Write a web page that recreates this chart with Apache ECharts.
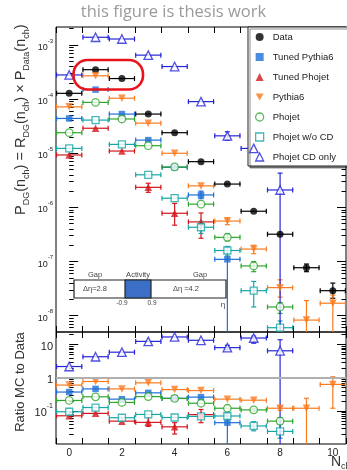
<!DOCTYPE html>
<html><head><meta charset="utf-8">
<script src="https://cdn.jsdelivr.net/npm/echarts@6/dist/echarts.min.js"></script>
<style>html,body{margin:0;padding:0;background:#fff;}#c{width:347px;height:470px;}</style>
</head><body><div id="c"></div>
<script>
// ---------- data ----------
const nch = [0, 1, 2, 3, 4, 5, 6, 7, 8, 9, 10];
const seriesNames = ['Data', 'Tuned Pythia6', 'Tuned Phojet', 'Pythia6', 'Phojet', 'Phojet w/o CD', 'Phojet CD only'];

// upper pane: P_DG(n_ch)
const pData   = [1.28e-4, 3.5e-4, 2.4e-4, 5.3e-5, 2.4e-5, 7.0e-6, 2.7e-6, 8.5e-7, 3.2e-7, 7.7e-8, 2.9e-8];
const pTunedPythia6 = [4.4e-5, 1.5e-4, 5.3e-5, 1.75e-5, 5.5e-6, 1.7e-6, 1.1e-7];
const pTunedPhojet  = [9.3e-6, 2.9e-5, 1.1e-5, 2.35e-6, 7.8e-7, 5.4e-7];
const pPythia6 = [7.2e-5, 2.7e-4, 1.04e-4, 3.6e-5, 1.0e-5, 2.5e-6, 5.6e-7, 1.7e-7, 3.3e-8, 8.3e-9, 1.7e-8];
const pPhojet  = [2.4e-5, 8.7e-5, 4.3e-5, 1.38e-5, 5.6e-6, 1.15e-6, 2.8e-7, 8.3e-8, 1.45e-8];
const pPhojetNoCD = [1.23e-5, 4.1e-5, 1.46e-5, 4.0e-6, 1.48e-6, 4.3e-7, 1.6e-7, 2.9e-8, 6.0e-9];
const pPhojetCD   = [2.8e-4, 1.39e-3, 1.29e-3, 6.5e-4, 4.0e-4, 9.0e-5, 2.1e-5, 1.23e-5, 2.1e-6];

// upper pane vertical error bands [low, high] (null = smaller than marker)
const ePData = [null, null, null, null, null, null, null, null, null, [6.5e-8, 9.0e-8], [2.1e-8, 4.0e-8]];
const ePTunedPythia6 = [null, null, null, null, null, [1.45e-6, 2.0e-6], [1e-12, 1.6e-7]];
const ePTunedPhojet  = [null, null, null, [1.9e-6, 2.8e-6], [4.7e-7, 1.19e-6], [2.7e-7, 7.9e-7]];
const ePPythia6 = [null, null, null, null, null, null, [4.8e-7, 6.4e-7], [1.4e-7, 2.0e-7], [2.2e-8, 4.6e-8], [1e-12, 1.9e-8], [1e-12, 2.4e-8]];
const ePPhojet  = [null, null, null, null, null, null, [2.4e-7, 3.3e-7], [6.5e-8, 1.0e-7], [1.1e-8, 1.75e-8]];
const ePPhojetNoCD = [null, null, null, null, null, [3.3e-7, 5.5e-7], [1.27e-7, 1.9e-7], [1.45e-8, 4.3e-8], [4e-9, 8e-9]];
const ePPhojetCD   = [null, null, null, null, null, null, [1.75e-5, 2.5e-5], [8.7e-6, 1.5e-5], [1e-12, 4.3e-6]];

// lower pane: ratio MC / Data
const rTunedPythia6 = [0.37, 0.46, 0.226, 0.35, 0.24, 0.26, 0.044];
const rTunedPhojet  = [0.071, 0.084, 0.049, 0.045, 0.033, 0.077];
const rPythia6 = [0.60, 0.77, 0.46, 0.70, 0.44, 0.41, 0.226, 0.21, 0.12, 0.12, 0.63];
const rPhojet  = [0.206, 0.266, 0.18, 0.27, 0.237, 0.17, 0.12, 0.107, 0.049];
const rPhojetNoCD = [0.094, 0.126, 0.062, 0.078, 0.063, 0.068, 0.07, 0.035, 0.024];
const rPhojetCD   = [2.18, 4.3, 5.9, 12.5, 17, 13.5, 8.1, 15.8, 6.5];

const eRTunedPythia6 = [null, null, null, null, null, null, [1e-6, 0.084]];
const eRTunedPhojet  = [null, null, null, [0.034, 0.063], [0.02, 0.044], [0.044, 0.11]];
const eRPythia6 = [null, null, null, null, null, null, null, null, [0.105, 0.135], [1e-6, 0.24], [0.12, 1.07]];
const eRPhojet  = [null, null, null, null, null, null, null, [0.095, 0.12], [0.039, 0.063]];
const eRPhojetNoCD = [null, null, null, null, null, null, [0.055, 0.09], [0.025, 0.047], [0.015, 0.039]];
const eRPhojetCD   = [null, null, null, null, null, null, [7.0, 9.5], [11, 18], [1e-6, 14]];

// axis ticks / labels
const xLabelValues = [0, 2, 4, 6, 8, 10];
const xTickValues = [-0.5, 0.5, 1.5, 2.5, 3.5, 4.5, 5.5, 6.5, 7.5, 8.5, 9.5, 10.5];
const yTopLabelValues = [1e-8, 1e-7, 1e-6, 1e-5, 1e-4, 1e-3];
const yTopDecades = [1e-9, 1e-8, 1e-7, 1e-6, 1e-5, 1e-4, 1e-3];
const yBotLabelValues = [0.1, 1, 10];
const yBotDecades = [0.01, 0.1, 1, 10];
const yTopRange = [5.0e-9, 2.15e-3];
const yBotRange = [0.01, 24];

// ---------- styles ----------
const FONT = 'Liberation Sans';
const styles = [
  { color: '#000000', symbol: 'circle', size: 7, open: false },
  { color: '#1f6fd6', symbol: 'rect', size: 6.5, open: false },
  { color: '#d3161b', symbol: 'triangle', size: 7.5, open: false },
  { color: '#fb7b1f', symbol: 'path://M0,0L10,0L5,8.66Z', size: 7.5, open: false },
  { color: '#2ea62e', symbol: 'circle', size: 7.5, open: true },
  { color: '#17a5a6', symbol: 'rect', size: 7, open: true },
  { color: '#2626d9', symbol: 'triangle', size: 8.5, open: true }
];
const upperVals = [pData, pTunedPythia6, pTunedPhojet, pPythia6, pPhojet, pPhojetNoCD, pPhojetCD];
const upperErrs = [ePData, ePTunedPythia6, ePTunedPhojet, ePPythia6, ePPhojet, ePPhojetNoCD, ePPhojetCD];
const lowerVals = [null, rTunedPythia6, rTunedPhojet, rPythia6, rPhojet, rPhojetNoCD, rPhojetCD];
const lowerErrs = [null, eRTunedPythia6, eRTunedPhojet, eRPythia6, eRPhojet, eRPhojetNoCD, eRPhojetCD];

function minorTicks(decades, range) {
  const out = [];
  decades.forEach(d => { for (let k = 2; k <= 9; k++) { const v = k * d; if (v > range[0] && v < range[1]) out.push(v); } });
  return out;
}

function buildPoints(ys, errs) {
  const out = [];
  for (let i = 0; i < nch.length; i++) {
    if (ys[i] == null) continue;
    const e = errs ? errs[i] : null;
    out.push([nch[i], ys[i], e ? e[0] : ys[i], e ? e[1] : ys[i]]);
  }
  return out;
}

function errRenderer(color) {
  return function (params, api) {
    const cs = params.coordSys;
    const x = api.value(0), y = api.value(1), lo = api.value(2), hi = api.value(3);
    const c = api.coord([x, y]);
    const l = api.coord([x - 0.5, y]);
    const r = api.coord([x + 0.5, y]);
    const top = cs.y, bot = cs.y + cs.height;
    const st = { stroke: color, lineWidth: 1.2 };
    const ch = [];
    ch.push({ type: 'line', shape: { x1: l[0], y1: c[1], x2: r[0], y2: c[1] }, style: st });
    ch.push({ type: 'line', shape: { x1: l[0] + 0.6, y1: c[1] - 2.5, x2: l[0] + 0.6, y2: c[1] + 2.5 }, style: st });
    ch.push({ type: 'line', shape: { x1: r[0] - 0.6, y1: c[1] - 2.5, x2: r[0] - 0.6, y2: c[1] + 2.5 }, style: st });
    if (hi > y * 1.0001 || lo < y * 0.9999) {
      const yh = api.coord([x, hi])[1];
      const yl = api.coord([x, lo])[1];
      const y1 = Math.max(top, Math.min(bot, yh));
      const y2 = Math.max(top, Math.min(bot, yl));
      ch.push({ type: 'line', shape: { x1: c[0], y1: y1, x2: c[0], y2: y2 }, style: st });
      if (yh >= top) ch.push({ type: 'line', shape: { x1: c[0] - 2.5, y1: yh, x2: c[0] + 2.5, y2: yh }, style: st });
      if (yl <= bot) ch.push({ type: 'line', shape: { x1: c[0] - 2.5, y1: yl, x2: c[0] + 2.5, y2: yl }, style: st });
    }
    return { type: 'group', children: ch };
  };
}

function itemStyleOf(s) {
  return s.open ? { color: '#fff', borderColor: s.color, borderWidth: 1.3 } : { color: s.color, borderWidth: 0 };
}

const series = [];
function addSeries(name, vals, errs, s, xi, yi) {
  const pts = buildPoints(vals, errs);
  series.push({
    type: 'scatter', name: name, xAxisIndex: xi, yAxisIndex: yi, z: 4,
    symbol: s.symbol, symbolSize: s.size, itemStyle: itemStyleOf(s),
    data: pts.map(p => [p[0], p[1]]), silent: true
  });
  series.push({
    type: 'custom', name: name, xAxisIndex: xi, yAxisIndex: yi, z: 3, silent: true,
    encode: { x: 0, y: 1 }, data: pts, renderItem: errRenderer(s.color)
  });
}
seriesNames.forEach((n, i) => addSeries(n, upperVals[i], upperErrs[i], styles[i], 0, 0));
seriesNames.forEach((n, i) => { if (lowerVals[i]) addSeries(n, lowerVals[i], lowerErrs[i], styles[i], 2, 4); });
// reference line at ratio 1
series.push({
  type: 'scatter', xAxisIndex: 2, yAxisIndex: 4, data: [], z: 2, silent: true,
  markLine: { silent: true, symbol: 'none', label: { show: false }, animation: false,
    lineStyle: { color: '#b0b0b0', width: 2, type: 'solid' }, data: [{ yAxis: 1 }] }
});

// ---------- axes ----------
function expLabel(v) {
  const e = Math.round(Math.log10(v));
  if (e === 0) return '{b|1}';
  if (e === 1) return '{b|10}';
  return '{b|10}{e|' + e + '}';
}
function xAxisDef(grid, pos, withLabels) {
  return {
    type: 'value', gridIndex: grid, position: pos, min: -0.5, max: 10.5,
    axisLine: { show: false }, splitLine: { show: false },
    axisTick: { show: true, inside: true, length: 6, customValues: xTickValues, lineStyle: { color: '#000', width: 1 } },
    axisLabel: withLabels ? { show: true, customValues: xLabelValues, fontSize: 10, color: '#222', margin: 4, fontFamily: FONT } : { show: false }
  };
}
function yAxisDef(grid, pos, range, ticks, len, labels, fs) {
  return {
    type: 'log', logBase: 10, gridIndex: grid, position: pos, min: range[0], max: range[1],
    axisLine: { show: false }, splitLine: { show: false }, minorTick: { show: false },
    axisTick: { show: true, inside: true, length: len, customValues: ticks, lineStyle: { color: '#000', width: 1 } },
    axisLabel: labels ? {
      show: true, customValues: labels, margin: 3, formatter: expLabel, fontFamily: FONT, color: '#222',
      rich: {
        b: { fontSize: fs, fontFamily: FONT, color: '#222', lineHeight: fs + 5, verticalAlign: 'bottom' },
        e: { fontSize: Math.round(fs * 0.68), fontFamily: FONT, color: '#222', lineHeight: 8, verticalAlign: 'top' }
      }
    } : { show: false }
  };
}
const topMinor = minorTicks(yTopDecades, yTopRange);
const botMinor = minorTicks(yBotDecades, yBotRange);

const option = {
  animation: false,
  backgroundColor: '#fff',
  textStyle: { fontFamily: FONT },
  grid: [
    { left: 56, top: 27, width: 290, height: 305, show: true, borderColor: '#000', borderWidth: 1, backgroundColor: 'transparent' },
    { left: 56, top: 332, width: 290, height: 112, show: true, borderColor: '#000', borderWidth: 1, backgroundColor: 'transparent' }
  ],
  xAxis: [xAxisDef(0, 'bottom', false), xAxisDef(0, 'top', false), xAxisDef(1, 'bottom', true), xAxisDef(1, 'top', false)],
  yAxis: [
    yAxisDef(0, 'left', yTopRange, yTopLabelValues, 9, yTopLabelValues, 9),
    yAxisDef(0, 'left', yTopRange, topMinor, 4.5, null, 9),
    yAxisDef(0, 'right', yTopRange, yTopLabelValues, 9, null, 9),
    yAxisDef(0, 'right', yTopRange, topMinor, 4.5, null, 9),
    yAxisDef(1, 'left', yBotRange, yBotLabelValues, 9, yBotLabelValues, 11),
    yAxisDef(1, 'left', yBotRange, botMinor, 4.5, null, 11),
    yAxisDef(1, 'right', yBotRange, yBotLabelValues, 9, null, 11),
    yAxisDef(1, 'right', yBotRange, botMinor, 4.5, null, 11)
  ],
  legend: {
    show: true, selectedMode: false, orient: 'vertical', left: 248, top: 27,
    itemWidth: 8, itemHeight: 8, itemGap: 10, padding: [5, 13, 4, 7],
    backgroundColor: '#fff', borderColor: '#222', borderWidth: 1,
    shadowColor: 'rgba(0,0,0,0.45)', shadowOffsetX: 2, shadowOffsetY: 2, shadowBlur: 0,
    textStyle: { fontSize: 9.5, color: '#222', fontFamily: FONT, padding: [0, 0, 0, 4] },
    data: seriesNames.map((n, i) => ({ name: n, icon: styles[i].symbol, itemStyle: itemStyleOf(styles[i]) }))
  },
  graphic: [
    { type: 'text', left: 'center', top: 4, style: { text: 'this figure is thesis work', fontSize: 16.5, fontFamily: 'Open Sans', fill: '#9a9a9a' } },
    { type: 'text', x: 21, y: 215, rotation: Math.PI / 2, style: {
        text: '{m|P}{s|DG}{m|(n}{s|ch}{m|) = R}{s|DG}{m|(n}{s|ch}{m|) × P}{s|Data}{m|(n}{s|ch}{m|)}',
        align: 'left', verticalAlign: 'middle', fill: '#333',
        rich: { m: { fontSize: 14.5, fontFamily: FONT, fill: '#333', lineHeight: 20 },
                s: { fontSize: 9, fontFamily: FONT, fill: '#333', lineHeight: 9, verticalAlign: 'bottom' } } } },
    { type: 'text', x: 20, y: 382, rotation: Math.PI / 2, style: { text: 'Ratio MC to Data', align: 'center', verticalAlign: 'middle', fontSize: 13, fontFamily: FONT, fill: '#333' } },
    { type: 'text', x: 331, y: 462, style: {
        text: '{m|N}{s|ch}', align: 'left', verticalAlign: 'middle',
        rich: { m: { fontSize: 14, fontFamily: FONT, fill: '#333', lineHeight: 18 },
                s: { fontSize: 9, fontFamily: FONT, fill: '#333', lineHeight: 8, verticalAlign: 'bottom' } } } },
    // highlight
    { type: 'rect', shape: { x: 73.5, y: 60, width: 69.5, height: 29.5, r: 14 }, style: { fill: 'none', stroke: '#e8141b', lineWidth: 2.6 }, z: 100 },
    // gap / activity schematic
    { type: 'rect', shape: { x: 74, y: 280, width: 152, height: 18 }, style: { fill: '#fff', stroke: '#222', lineWidth: 1.2 }, z: 90 },
    { type: 'rect', shape: { x: 125, y: 280, width: 26, height: 18 }, style: { fill: '#3b6fc6', stroke: '#222', lineWidth: 1.2 }, z: 91 },
    { type: 'text', x: 95, y: 275, z: 92, style: { text: 'Gap', align: 'center', verticalAlign: 'middle', fontSize: 7.5, fontFamily: FONT, fill: '#444' } },
    { type: 'text', x: 138, y: 275, z: 92, style: { text: 'Activity', align: 'center', verticalAlign: 'middle', fontSize: 7.5, fontFamily: FONT, fill: '#444' } },
    { type: 'text', x: 200, y: 275, z: 92, style: { text: 'Gap', align: 'center', verticalAlign: 'middle', fontSize: 7.5, fontFamily: FONT, fill: '#444' } },
    { type: 'text', x: 95, y: 289, z: 92, style: { text: 'Δη=2.8', align: 'center', verticalAlign: 'middle', fontSize: 7.5, fontFamily: FONT, fill: '#444' } },
    { type: 'text', x: 186, y: 289, z: 92, style: { text: 'Δη =4.2', align: 'center', verticalAlign: 'middle', fontSize: 7.5, fontFamily: FONT, fill: '#444' } },
    { type: 'text', x: 122, y: 303, z: 92, style: { text: '-0.9', align: 'center', verticalAlign: 'middle', fontSize: 6.5, fontFamily: FONT, fill: '#444' } },
    { type: 'text', x: 152, y: 303, z: 92, style: { text: '0.9', align: 'center', verticalAlign: 'middle', fontSize: 6.5, fontFamily: FONT, fill: '#444' } },
    { type: 'text', x: 223, y: 305, z: 92, style: { text: 'η', align: 'center', verticalAlign: 'middle', fontSize: 8, fontFamily: FONT, fill: '#444' } }
  ],
  series: series
};
const chart = echarts.init(document.getElementById('c'), null, { renderer: 'canvas' });
chart.setOption(option);
</script></body></html>
